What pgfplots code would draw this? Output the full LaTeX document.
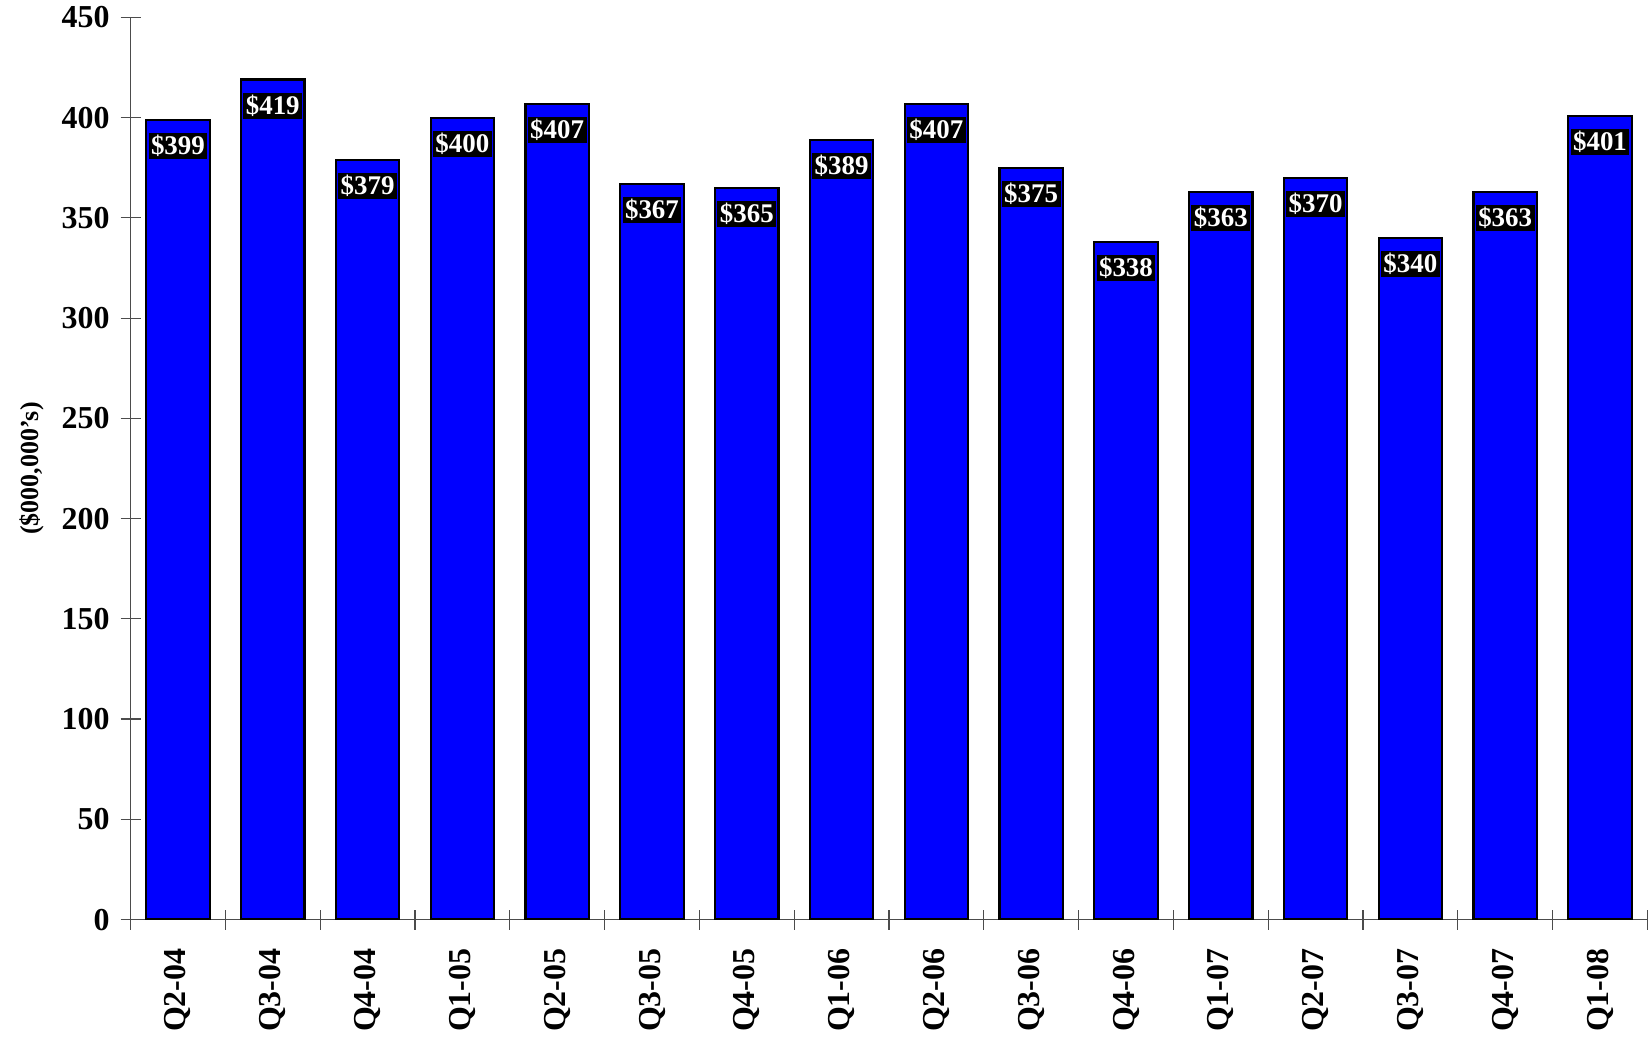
\documentclass[border=0pt]{standalone}
\usepackage{fontspec}
\setmainfont{Liberation Serif}
\usepackage{pgfplots}
\pgfplotsset{compat=1.18}
\definecolor{barblue}{RGB}{0,0,255}
\begin{document}
\begin{tikzpicture}
\begin{axis}[
    scale only axis,
    width=760pt,
    height=452pt,
    ybar,
    bar width=0.67,
    xmin=-0.5, xmax=15.5,
    ymin=0, ymax=450,
    axis lines*=left,
    axis line style={draw=black!70, line width=0.6pt},
    xtick={0,...,15},
    xticklabels={Q2-04,Q3-04,Q4-04,Q1-05,Q2-05,Q3-05,Q4-05,Q1-06,Q2-06,Q3-06,Q4-06,Q1-07,Q2-07,Q3-07,Q4-07,Q1-08},
    major x tick style={draw=none},
    minor xtick={-0.5,0.5,...,15.5},
    minor tick length=10pt,
    ytick={0,50,...,450},
    major tick length=10pt,
    tick align=center,
    tick style={draw=black!70, line width=0.6pt},
    /pgf/number format/assume math mode=true,
    ticklabel style={font=\fontsize{16}{18}\selectfont\bfseries},
    xticklabel style={rotate=90, anchor=east, xshift=-6pt},
    yticklabel style={xshift=-2pt},
    ylabel={(\$000,000's)},
    ylabel style={font=\fontsize{13}{15}\selectfont\bfseries, yshift=2pt},
    nodes near coords={\$\pgfmathprintnumber{\pgfplotspointmeta}},
    every node near coord/.append style={
        anchor=north, yshift=-6pt, fill=black, text=white,
        inner sep=1.2pt, font=\fontsize{13.5}{15}\selectfont\bfseries},
]
\addplot[fill=barblue, draw=black, line width=1.1pt] coordinates {
    (0,399) (1,419) (2,379) (3,400) (4,407) (5,367) (6,365) (7,389)
    (8,407) (9,375) (10,338) (11,363) (12,370) (13,340) (14,363) (15,401)
};
\end{axis}
% white margin on the left, as in the reference
\path ([xshift=-6.5pt]current bounding box.west);
\end{tikzpicture}
\end{document}
